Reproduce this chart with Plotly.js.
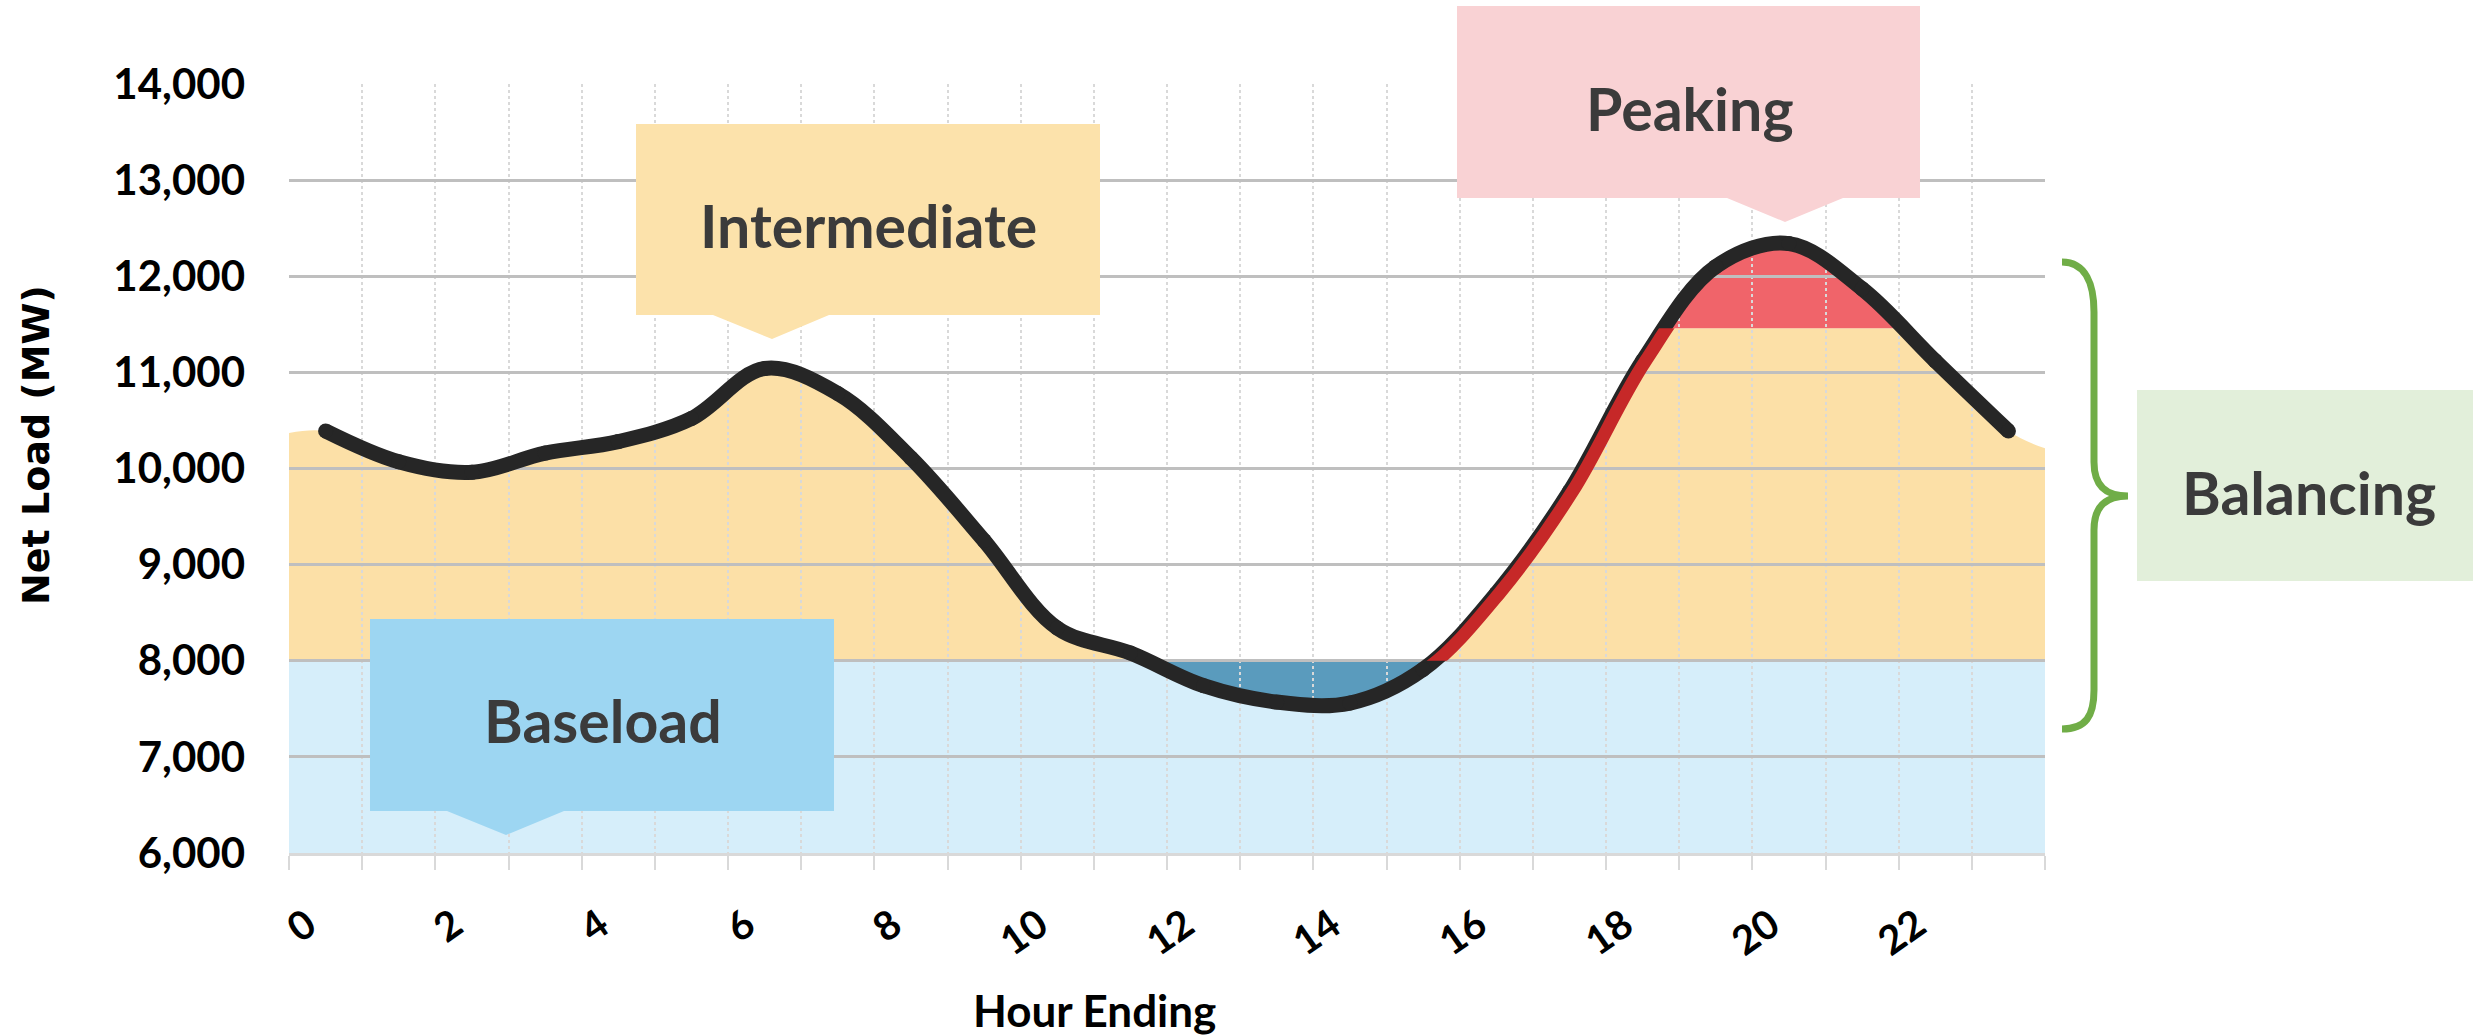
<!DOCTYPE html>
<html>
<head>
<meta charset="utf-8">
<script src="https://cdn.plot.ly/plotly-3.0.1.min.js"></script>
<style>html,body{margin:0;padding:0;background:#fff;}</style>
</head>
<body>
<div id="chart" style="width:2473px;height:1035px;"></div>
<script>
// ---------------- data ----------------
const hours = [0,1,2,3,4,5,6,7,8,9,10,11,12,13,14,15,16,17,18,19,20,21,22,23];
const netLoad = [10390,10070,9960,10160,10280,10520,11040,10780,10110,9250,8340,8080,
                 7740,7570,7560,7910,8700,9760,11120,12100,12340,11870,11120,10390];
const areaEdgeHours = [-0.5, 23.5];
const areaEdgeLoads = [10370, 10210];
const baseloadLevel = 8000;
const peakingLevel = 11460;
const yTickValues = [6000,7000,8000,9000,10000,11000,12000,13000,14000];
const xTickValues = [0,2,4,6,8,10,12,14,16,18,20,22];
const xTickLabels = ['0','2','4','6','8','10','12','14','16','18','20','22'];
const bandLabels = ['Intermediate','Peaking','Baseload','Balancing'];
const axisTitles = {x:'Hour Ending', y:'Net Load (MW)'};
const rampWindow = [14.5, 19.5];

// ---------------- geometry helpers ----------------
const W = 2473, H = 1035;
const M = {l:289, r:428, t:84, b:182};
const L = M.l, R = W - M.r, T = M.t, B = H - M.b;
const fx = px => (px - L) / (R - L);
const fy = py => (B - py) / (B - T);
const hourBoundaries = hours.map(h => h - 0.5).concat([hours[hours.length-1] + 0.5]);
const xMin = hourBoundaries[0], xMax = hourBoundaries[hourBoundaries.length-1];
const yMin = yTickValues[0], yMax = yTickValues[yTickValues.length-1];
const vFrac = v => (v - yMin) / (yMax - yMin);
const hFrac = h => (h - xMin) / (xMax - xMin);
const shift = 3 / (R - L);

const areaX = [areaEdgeHours[0]].concat(hours, [areaEdgeHours[1]]);
const areaY = [areaEdgeLoads[0]].concat(netLoad, [areaEdgeLoads[1]]);

const COLORS = {
  baseFill: '#D6EEFA', belowFill: '#5A9BBD', interFill: '#FCE0A7', peakFill: '#F0646A',
  line: '#262626', ramp: '#C62828', grid: '#BFBFBF', minorGrid: '#D9D9D9',
  boxInter: '#FCE2AB', boxPeak: '#F9D2D4', boxBase: '#9DD6F2', boxBal: '#E2EFDA',
  brace: '#70AD47', label: '#3B3B3B'
};

const spline = {shape:'spline', smoothing:1, width:0};
const traces = [
  // light blue baseload band (6000-8000)
  {x:[xMin, xMax], y:[baseloadLevel, baseloadLevel], xaxis:'x', yaxis:'y3', mode:'lines',
   fill:'tozeroy', fillcolor:COLORS.baseFill, line:{width:0}, hoverinfo:'skip'},
  // dark blue where net load dips below baseload
  {x:hours, y:netLoad, xaxis:'x', yaxis:'y3', mode:'lines', fill:'tonexty',
   fillcolor:COLORS.belowFill, line:spline, hoverinfo:'skip'},
  // intermediate band
  {x:areaX, y:areaY, xaxis:'x', yaxis:'y', mode:'lines', fill:'tozeroy',
   fillcolor:COLORS.interFill, line:spline, hoverinfo:'skip'},
  // peaking band
  {x:hours, y:netLoad, xaxis:'x', yaxis:'y2', mode:'lines', fill:'tozeroy',
   fillcolor:COLORS.peakFill, line:spline, hoverinfo:'skip'},
  // net load line
  {x:hours, y:netLoad, xaxis:'x2', yaxis:'y4', mode:'lines+markers',
   line:{shape:'spline', smoothing:1, width:15, color:COLORS.line},
   marker:{size:15, color:COLORS.line}, hoverinfo:'skip'},
  // ramp highlight
  {x:hours, y:netLoad, xaxis:'x3', yaxis:'y5', mode:'lines',
   line:{shape:'spline', smoothing:1, width:13, color:COLORS.ramp}, hoverinfo:'skip'}
];

const hidden = {visible:false, fixedrange:true};

function calloutPath(b) {
  const pts = [[b.l,b.t],[b.r,b.t],[b.r,b.b]];
  if (b.tip) pts.push([b.p2,b.b],[b.tip[0],b.tip[1]],[b.p1,b.b]);
  pts.push([b.l,b.b]);
  return 'M' + pts.map(p => fx(p[0]).toFixed(5) + ',' + fy(p[1]).toFixed(5)).join('L') + 'Z';
}
const boxes = [
  {l:636, t:124, r:1100, b:315, p1:713, p2:829, tip:[772,339], color:COLORS.boxInter, cx:868, cy:226},
  {l:1457, t:6, r:1920, b:198, p1:1727, p2:1843, tip:[1785,222], color:COLORS.boxPeak, cx:1690, cy:108},
  {l:370, t:619, r:834, b:811, p1:447, p2:564, tip:[506,835], color:COLORS.boxBase, cx:603, cy:720},
  {l:2137, t:390, r:2473, b:581, color:COLORS.boxBal, cx:2309, cy:492}
];
const shapes = boxes.map(b => ({type:'path', xref:'paper', yref:'paper', path:calloutPath(b),
  fillcolor:b.color, line:{width:0}, layer:'above'}));

const P = p => fx(p[0]).toFixed(5) + ',' + fy(p[1]).toFixed(5);
const braceSegs = [['M',[[2062,262]]],['C',[[2086,262],[2094,285],[2094,312]]],['L',[[2094,462]]],
  ['C',[[2094,486],[2106,496],[2128,496]]],['C',[[2106,496],[2094,506],[2094,530]]],['L',[[2094,690]]],
  ['C',[[2094,716],[2086,729],[2062,729]]]];
shapes.push({type:'path', xref:'paper', yref:'paper', layer:'above',
  path: braceSegs.map(s => s[0] + s[1].map(P).join(' ')).join(' '),
  line:{color:COLORS.brace, width:7}, fillcolor:'rgba(0,0,0,0)'});

const annotations = boxes.map((b, i) => ({
  text: bandLabels[i], xref:'paper', yref:'paper', x: fx(b.cx), y: fy(b.cy),
  xanchor:'center', yanchor:'middle', showarrow:false,
  font:{family:'Lato', size: 59, weight:700, color:COLORS.label}
}));
// axis titles
annotations.push({text: axisTitles.x, xref:'paper', yref:'paper', x: fx(1094), y: fy(1010),
  xanchor:'center', yanchor:'middle', showarrow:false,
  font:{family:'Lato', size:44, weight:700, color:'#000'}});
annotations.push({text: axisTitles.y, xref:'paper', yref:'paper', x: fx(36), y: fy(445),
  xanchor:'center', yanchor:'middle', showarrow:false, textangle:-90,
  font:{family:'DejaVu Sans', size:38, weight:700, color:'#000'}});

const layout = {
  width:W, height:H, margin:M, paper_bgcolor:'#ffffff', plot_bgcolor:'rgba(0,0,0,0)',
  showlegend:false, hovermode:false,
  xaxis: Object.assign({}, hidden, {range:[xMin,xMax], domain:[0,1], anchor:'y'}),
  yaxis: Object.assign({}, hidden, {range:[baseloadLevel, peakingLevel],
          domain:[vFrac(baseloadLevel), vFrac(peakingLevel)], anchor:'x'}),
  yaxis2: Object.assign({}, hidden, {range:[peakingLevel, yMax], domain:[vFrac(peakingLevel), 1], anchor:'x'}),
  yaxis3: Object.assign({}, hidden, {range:[yMin, baseloadLevel], domain:[0, vFrac(baseloadLevel)], anchor:'x'}),
  xaxis2: {
    range:[xMin,xMax], domain:[0,1], anchor:'y4', fixedrange:true,
    tickmode:'array', tickvals:xTickValues, ticktext:xTickLabels, tickangle:-35,
    ticks:'', showgrid:false, zeroline:false, showline:true, linecolor:'#D9D9D9', linewidth:3,
    tickfont:{family:'Lato', size:40, weight:700, color:'#000'}, ticklabelstandoff:30, ticklabelshift:-18,
    minor:{tickmode:'array', tickvals:hourBoundaries, showgrid:true, gridcolor:COLORS.minorGrid,
           griddash:'dot', gridwidth:2, ticks:'outside', ticklen:14, tickcolor:COLORS.minorGrid, tickwidth:2}
  },
  yaxis4: {
    range:[yMin,yMax], domain:[0,1], anchor:'x2', fixedrange:true,
    tickmode:'array', tickvals:yTickValues, tickformat:',d', ticks:'',
    showgrid:true, gridcolor:COLORS.grid, gridwidth:3, zeroline:false, showline:false,
    tickfont:{family:'Lato', size:42, weight:700, color:'#000'}, ticklabelstandoff:43
  },
  xaxis3: Object.assign({}, hidden, {range:rampWindow, domain:[hFrac(rampWindow[0]) + shift, hFrac(rampWindow[1]) + shift], anchor:'y5'}),
  yaxis5: Object.assign({}, hidden, {range:[baseloadLevel, peakingLevel],
          domain:[vFrac(baseloadLevel), vFrac(peakingLevel)], anchor:'x3'}),
  shapes: shapes,
  annotations: annotations
};

Plotly.newPlot('chart', traces, layout, {staticPlot:true, displayModeBar:false});
</script>
</body>
</html>
